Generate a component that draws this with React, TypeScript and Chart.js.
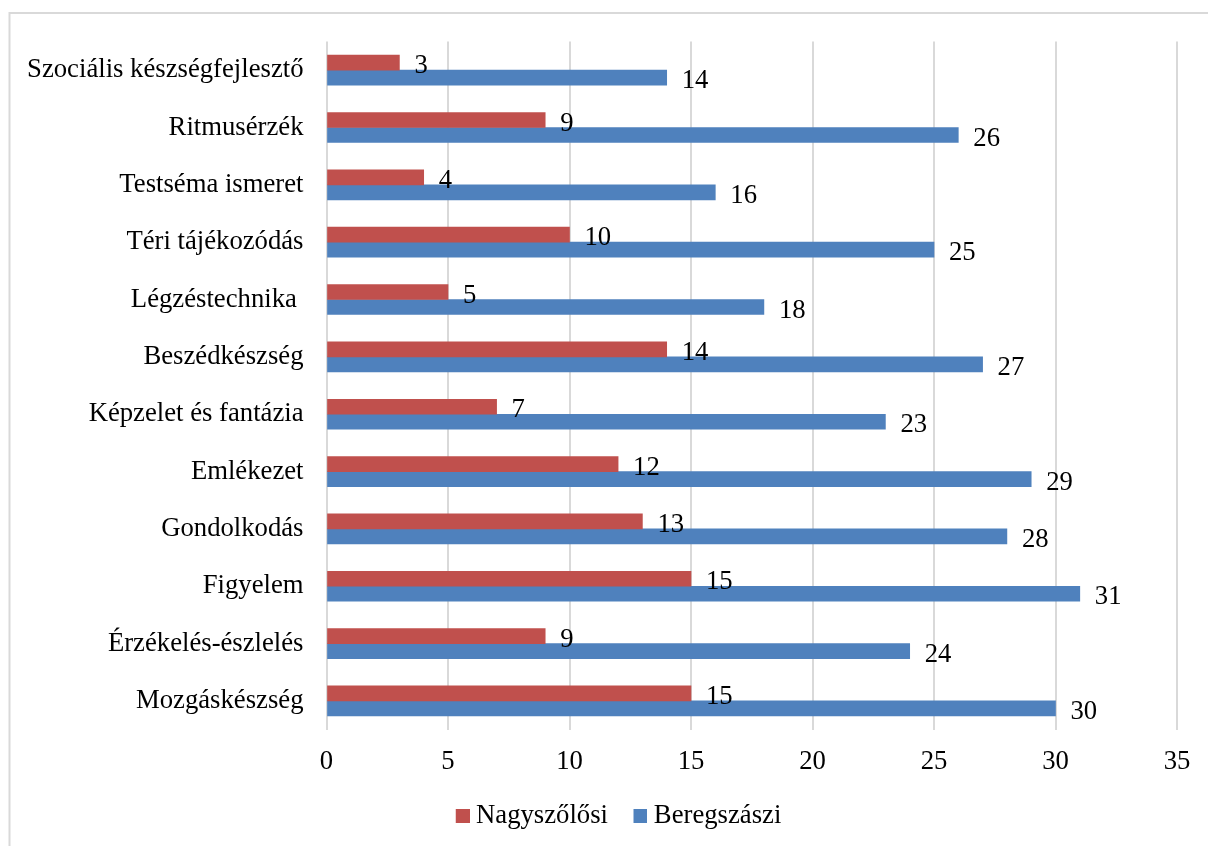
import { useEffect, useRef } from "react";
import { Chart, registerables } from "chart.js";

Chart.register(...registerables);

const categories = [
  "Szociális készségfejlesztő",
  "Ritmusérzék",
  "Testséma ismeret",
  "Téri tájékozódás",
  "Légzéstechnika ",
  "Beszédkészség",
  "Képzelet és fantázia",
  "Emlékezet",
  "Gondolkodás",
  "Figyelem",
  "Érzékelés-észlelés",
  "Mozgáskészség",
];
const nagyszolosi = [3, 9, 4, 10, 5, 14, 7, 12, 13, 15, 9, 15];
const beregszaszi = [14, 26, 16, 25, 18, 27, 23, 29, 28, 31, 24, 30];
const seriesNames = ["Nagyszőlősi", "Beregszászi"];
const seriesColors = ["#C0504D", "#4F81BD"];
const xMin = 0;
const xMax = 35;
const xStep = 5;

const FONT = '"Liberation Serif", "Times New Roman", serif';
const FS = 26.7;

function makeSwatch(color: string) {
  const c = document.createElement("canvas");
  c.width = 28;
  c.height = 14;
  const g = c.getContext("2d")!;
  g.fillStyle = color;
  g.fillRect(14, 0, 14, 14);
  return c;
}

export default function App() {
  const ref = useRef<HTMLCanvasElement | null>(null);

  useEffect(() => {
    if (!ref.current) return;

    const swatches = seriesColors.map(makeSwatch);

    const framePlugin = {
      id: "frame",
      beforeDraw(chart: any) {
        const ctx = chart.ctx;
        ctx.save();
        ctx.strokeStyle = "#d9d9d9";
        ctx.lineWidth = 2;
        ctx.beginPath();
        ctx.moveTo(9.5, 2000);
        ctx.lineTo(9.5, 13);
        ctx.lineTo(3000, 13);
        ctx.stroke();
        ctx.restore();
      },
    };

    const labelPlugin = {
      id: "valueLabels",
      afterDatasetsDraw(chart: any) {
        const ctx = chart.ctx;
        ctx.save();
        ctx.font = `${FS}px ${FONT}`;
        ctx.fillStyle = "#000";
        ctx.textBaseline = "alphabetic";
        ctx.textAlign = "left";
        chart.data.datasets.forEach((ds: any, i: number) => {
          chart.getDatasetMeta(i).data.forEach((bar: any, j: number) => {
            ctx.fillText(String(ds.data[j]), bar.x + 15, bar.y + 10.5);
          });
        });
        ctx.restore();
      },
    };

    const chart = new Chart(ref.current, {
      type: "bar",
      data: {
        labels: categories,
        datasets: [
          {
            label: seriesNames[0],
            data: nagyszolosi,
            backgroundColor: seriesColors[0],
            barThickness: 15,
            yAxisID: "y",
          },
          {
            label: seriesNames[1],
            data: beregszaszi,
            backgroundColor: seriesColors[1],
            barThickness: 15,
            yAxisID: "y",
          },
        ],
      },
      options: {
        indexAxis: "y",
        animation: false,
        responsive: false,
        layout: { padding: { left: 22, right: 0, top: 41.5, bottom: 6.6 } },
        font: { family: FONT, size: FS },
        scales: {
          x: {
            min: xMin,
            max: xMax,
            ticks: {
              stepSize: xStep,
              color: "#000",
              padding: 16,
              font: { family: FONT, size: FS },
            },
            grid: { color: "#d9d9d9", lineWidth: 2, drawTicks: false },
            border: { display: false },
            afterFit(scale: any) {
              scale.height = 54.6;
            },
          },
          y: {
            position: "left",
            ticks: {
              color: "#000",
              padding: 23,
              font: { family: FONT, size: FS },
            },
            grid: { display: false, drawTicks: false },
            border: { display: false },
            afterFit(scale: any) {
              scale.width = 304.5;
            },
          },
          r: {
            type: "linear",
            axis: "y",
            position: "right",
            ticks: { display: false },
            grid: { display: false, drawTicks: false },
            border: { display: false },
            afterFit(scale: any) {
              scale.width = 31;
            },
          },
        },
        plugins: {
          legend: {
            position: "bottom",
            labels: {
              color: "#000",
              usePointStyle: true,
              boxWidth: 14,
              boxHeight: 14,
              padding: 18.5,
              font: { family: FONT, size: FS },
              generateLabels(c: any) {
                const items = (Chart.defaults as any).plugins.legend.labels.generateLabels(c);
                return items.map((it: any, i: number) => ({ ...it, pointStyle: swatches[i] }));
              },
            },
          },
          tooltip: { enabled: false },
        },
      } as any,
      plugins: [framePlugin, labelPlugin],
    });

    return () => chart.destroy();
  }, []);

  return (
    <div
      style={{
        position: "absolute",
        left: 0,
        top: 0,
        width: 1208,
        height: 846,
        overflow: "hidden",
        background: "#fff",
      }}
    >
      <canvas ref={ref} width={1208} height={846} style={{ display: "block" }} />
    </div>
  );
}
